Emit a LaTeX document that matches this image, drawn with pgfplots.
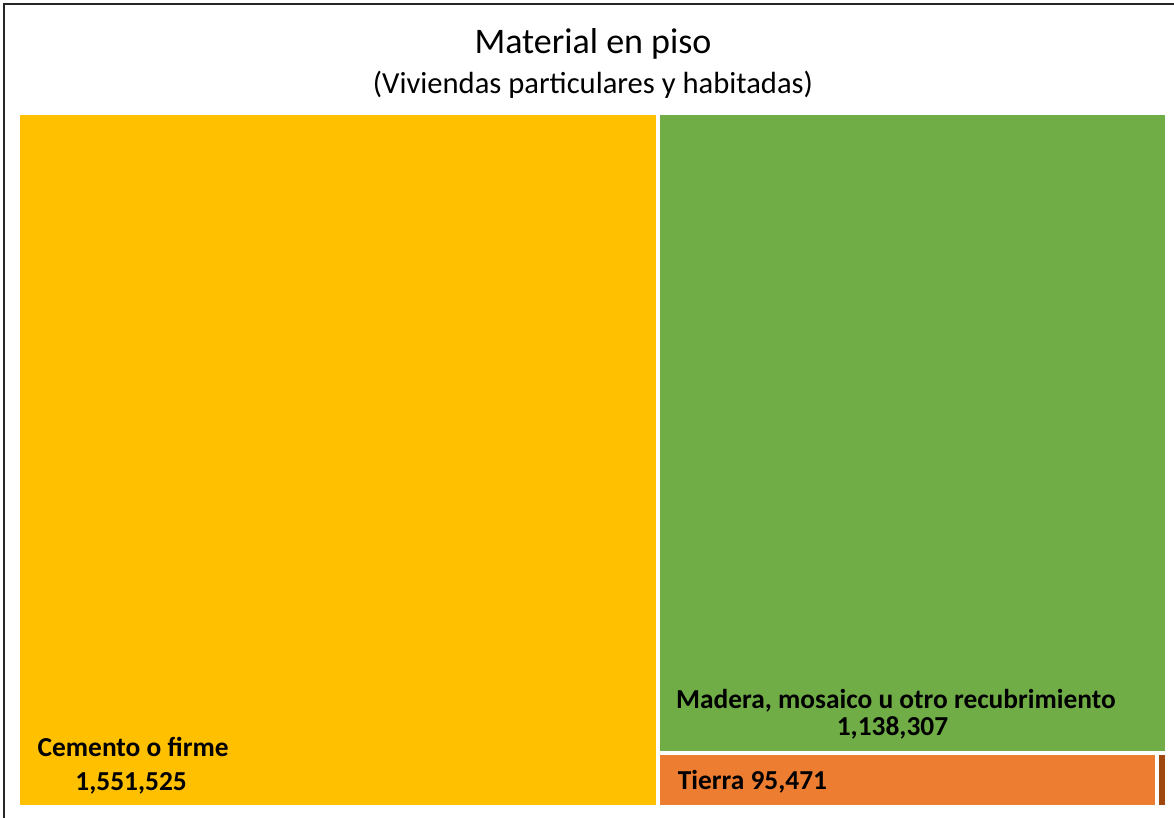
\documentclass[border=0pt]{standalone}
\usepackage{fontspec}
\setmainfont{Carlito}
\usepackage{pgfplots}
\pgfplotsset{compat=1.18}

\definecolor{cemento}{HTML}{FFC000}
\definecolor{madera}{HTML}{70AD47}
\definecolor{tierra}{HTML}{ED7D31}
\definecolor{noesp}{HTML}{9E480E}

\tikzset{lbl/.style={font=\bfseries\fontsize{13.7}{16}\selectfont, inner sep=0pt}}

\begin{document}
\begin{tikzpicture}
\useasboundingbox (-10pt,-6.5pt) rectangle (577pt,402.5pt);
\draw[line width=1pt, black!85] (-8pt,-7pt) -- (-8pt,400.5pt) -- (578pt,400.5pt);
\node[anchor=base, inner sep=0pt, font=\fontsize{18}{22}\selectfont] at (286.5pt,375.5pt) {Material en piso};
\node[anchor=base, inner sep=0pt, font=\fontsize{15.3}{19}\selectfont] at (286.5pt,355.5pt) {(Viviendas particulares y habitadas)};

\begin{axis}[
    at={(-1pt,-1pt)}, anchor=south west,
    scale only axis,
    width=574.5pt, height=347pt,
    xmin=0, xmax=2787.203,
    ymin=0, ymax=1,
    hide axis,
    clip=false
]
% treemap tiles (x in thousands of dwellings, y as share of height)
\addplot[fill=cemento, draw=white, line width=2pt] coordinates {(0,0) (1551.525,0) (1551.525,1) (0,1)} -- cycle;
\addplot[fill=madera, draw=white, line width=2pt] coordinates {(1551.525,0.078) (2787.203,0.078) (2787.203,1) (1551.525,1)} -- cycle;
\addplot[fill=tierra, draw=white, line width=2pt] coordinates {(1551.525,0) (2763.0,0) (2763.0,0.078) (1551.525,0.078)} -- cycle;
\addplot[fill=noesp, draw=white, line width=2pt] coordinates {(2763.0,0) (2787.203,0) (2787.203,0.078) (2763.0,0.078)} -- cycle;

\node[lbl, anchor=base west] at (axis cs:46.8,0.0725) {Cemento o firme};
\node[lbl, anchor=base west] at (axis cs:138.3,0.0231) {1,551,525};
\node[lbl, anchor=base] at (axis cs:2129.8,0.1412) {Madera, mosaico u otro recubrimiento};
\node[lbl, anchor=base] at (axis cs:2121.3,0.1023) {1,138,307};
\node[lbl, anchor=base] at (axis cs:1781.7,0.0245) {Tierra 95,471};
\end{axis}
\end{tikzpicture}
\end{document}
